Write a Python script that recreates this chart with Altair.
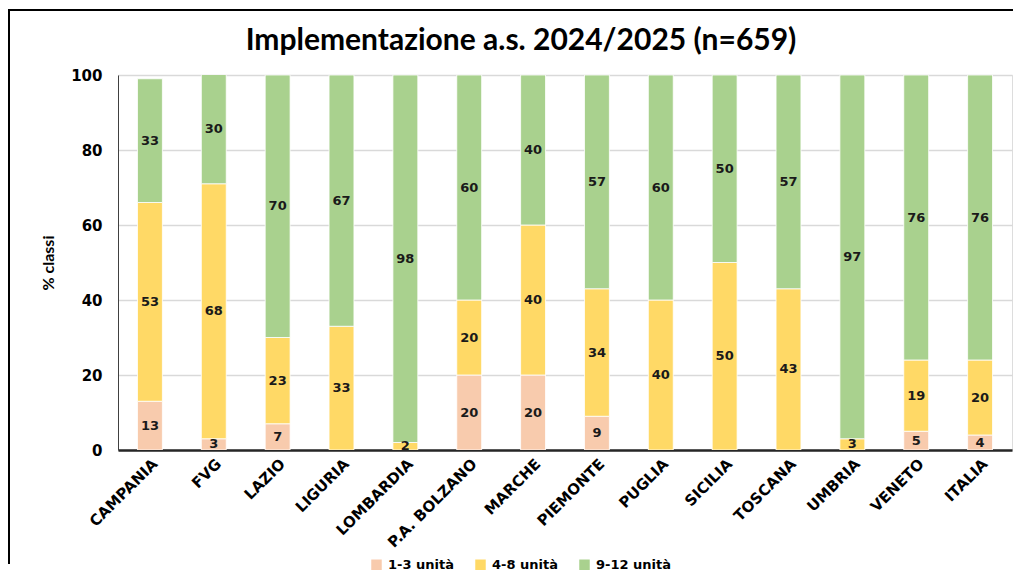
import altair as alt
import pandas as pd

title_text = ["Implementazione a.s. 2024/2025 (n=659)"]
regions = ["CAMPANIA", "FVG", "LAZIO", "LIGURIA", "LOMBARDIA", "P.A. BOLZANO", "MARCHE",
           "PIEMONTE", "PUGLIA", "SICILIA", "TOSCANA", "UMBRIA", "VENETO", "ITALIA"]
series_names = ["1-3 unità", "4-8 unità", "9-12 unità"]
s_1_3 = [13, 3, 7, 0, 0, 20, 20, 9, 0, 0, 0, 0, 5, 4]
s_4_8 = [53, 68, 23, 33, 2, 20, 40, 34, 40, 50, 43, 3, 19, 20]
s_9_12 = [33, 30, 70, 67, 98, 60, 40, 57, 60, 50, 57, 97, 76, 76]
colors = ["#F8CBAD", "#FFD966", "#A9D18E"]
y_ticks = [0, 20, 40, 60, 80, 100]

rows = []
for k, (name, vals) in enumerate(zip(series_names, [s_1_3, s_4_8, s_9_12])):
    for r, v in zip(regions, vals):
        rows.append({"region": r, "serie": name, "value": v, "ord": k})
df = pd.DataFrame(rows)

LAB = "DejaVu Sans"
TIT = "Lato"

x_enc = alt.X("region:N", sort=regions, title=None,
              scale=alt.Scale(paddingInner=0.61, paddingOuter=0.305),
              axis=alt.Axis(labelAngle=-45, labelFont=LAB, labelFontWeight="bold",
                            labelFontSize=15, labelColor="#000000", labelPadding=6,
                            ticks=False, domainColor="#262626", domainWidth=2.5,
                            labelAlign="right", labelBaseline="top"))

base = alt.Chart(df)

bars = base.mark_bar(clip=True, stroke="#ffffff", strokeWidth=0.8).encode(
    x=x_enc,
    y=alt.Y("value:Q", stack="zero",
            scale=alt.Scale(domain=[0, 100], nice=False),
            axis=alt.Axis(values=y_ticks, title="% classi", titleFont=TIT,
                          titleFontSize=16, titleFontWeight="bold", titleColor="#000000",
                          titlePadding=14, labelFont=LAB, labelFontWeight="bold",
                          labelFontSize=15, labelColor="#000000", labelPadding=16,
                          ticks=False, domain=True, domainColor="#404040", domainWidth=1,
                          gridColor="#D9D9D9", gridWidth=1.5)),
    color=alt.Color("serie:N", sort=series_names,
                    scale=alt.Scale(domain=series_names, range=colors),
                    legend=alt.Legend(title=None, orient="none", direction="horizontal",
                                      legendX=252, legendY=483, symbolType="square",
                                      symbolSize=110, symbolStrokeWidth=0,
                                      labelFont=LAB, labelFontWeight="bold",
                                      labelFontSize=13, labelColor="#000000",
                                      columnPadding=20, labelOffset=5)),
    order=alt.Order("ord:Q", sort="ascending"),
)

labels = base.transform_stack(
    stack="value", groupby=["region"], sort=[alt.SortField("ord", order="ascending")],
    as_=["y0", "y1"]
).transform_calculate(
    ymid="(datum.y0 + min(datum.y1, 100)) / 2"
).transform_filter("datum.value > 0").mark_text(
    font=LAB, fontWeight="bold", fontSize=13, color="#1a1a1a", baseline="middle"
).encode(
    x=alt.X("region:N", sort=regions),
    y=alt.Y("ymid:Q"),
    text=alt.Text("value:Q"),
)

title_mark = alt.Chart(pd.DataFrame({"t": title_text})).mark_text(
    font=TIT, fontSize=30, fontWeight="bold", color="#000000",
    align="center", baseline="alphabetic", clip=False
).encode(x=alt.value(403), y=alt.value(-25), text="t:N")

frame_left = alt.Chart(pd.DataFrame({"a": [0]})).mark_rule(
    color="#000000", strokeWidth=2, clip=False
).encode(x=alt.value(-109), y=alt.value(-65), y2=alt.value(489))
frame_top = alt.Chart(pd.DataFrame({"a": [0]})).mark_rule(
    color="#000000", strokeWidth=2, clip=False
).encode(x=alt.value(-110), x2=alt.value(895), y=alt.value(-65))

chart = alt.layer(bars, labels, title_mark, frame_left, frame_top).properties(
    width=894, height=375,
    autosize=alt.AutoSizeParams(type="none"),
    padding={"left": 110, "top": 67, "right": 1, "bottom": 122},
).configure_view(stroke=None).configure(background="#ffffff")

chart.save("out.html", embed_options={"renderer": "svg", "actions": False})
